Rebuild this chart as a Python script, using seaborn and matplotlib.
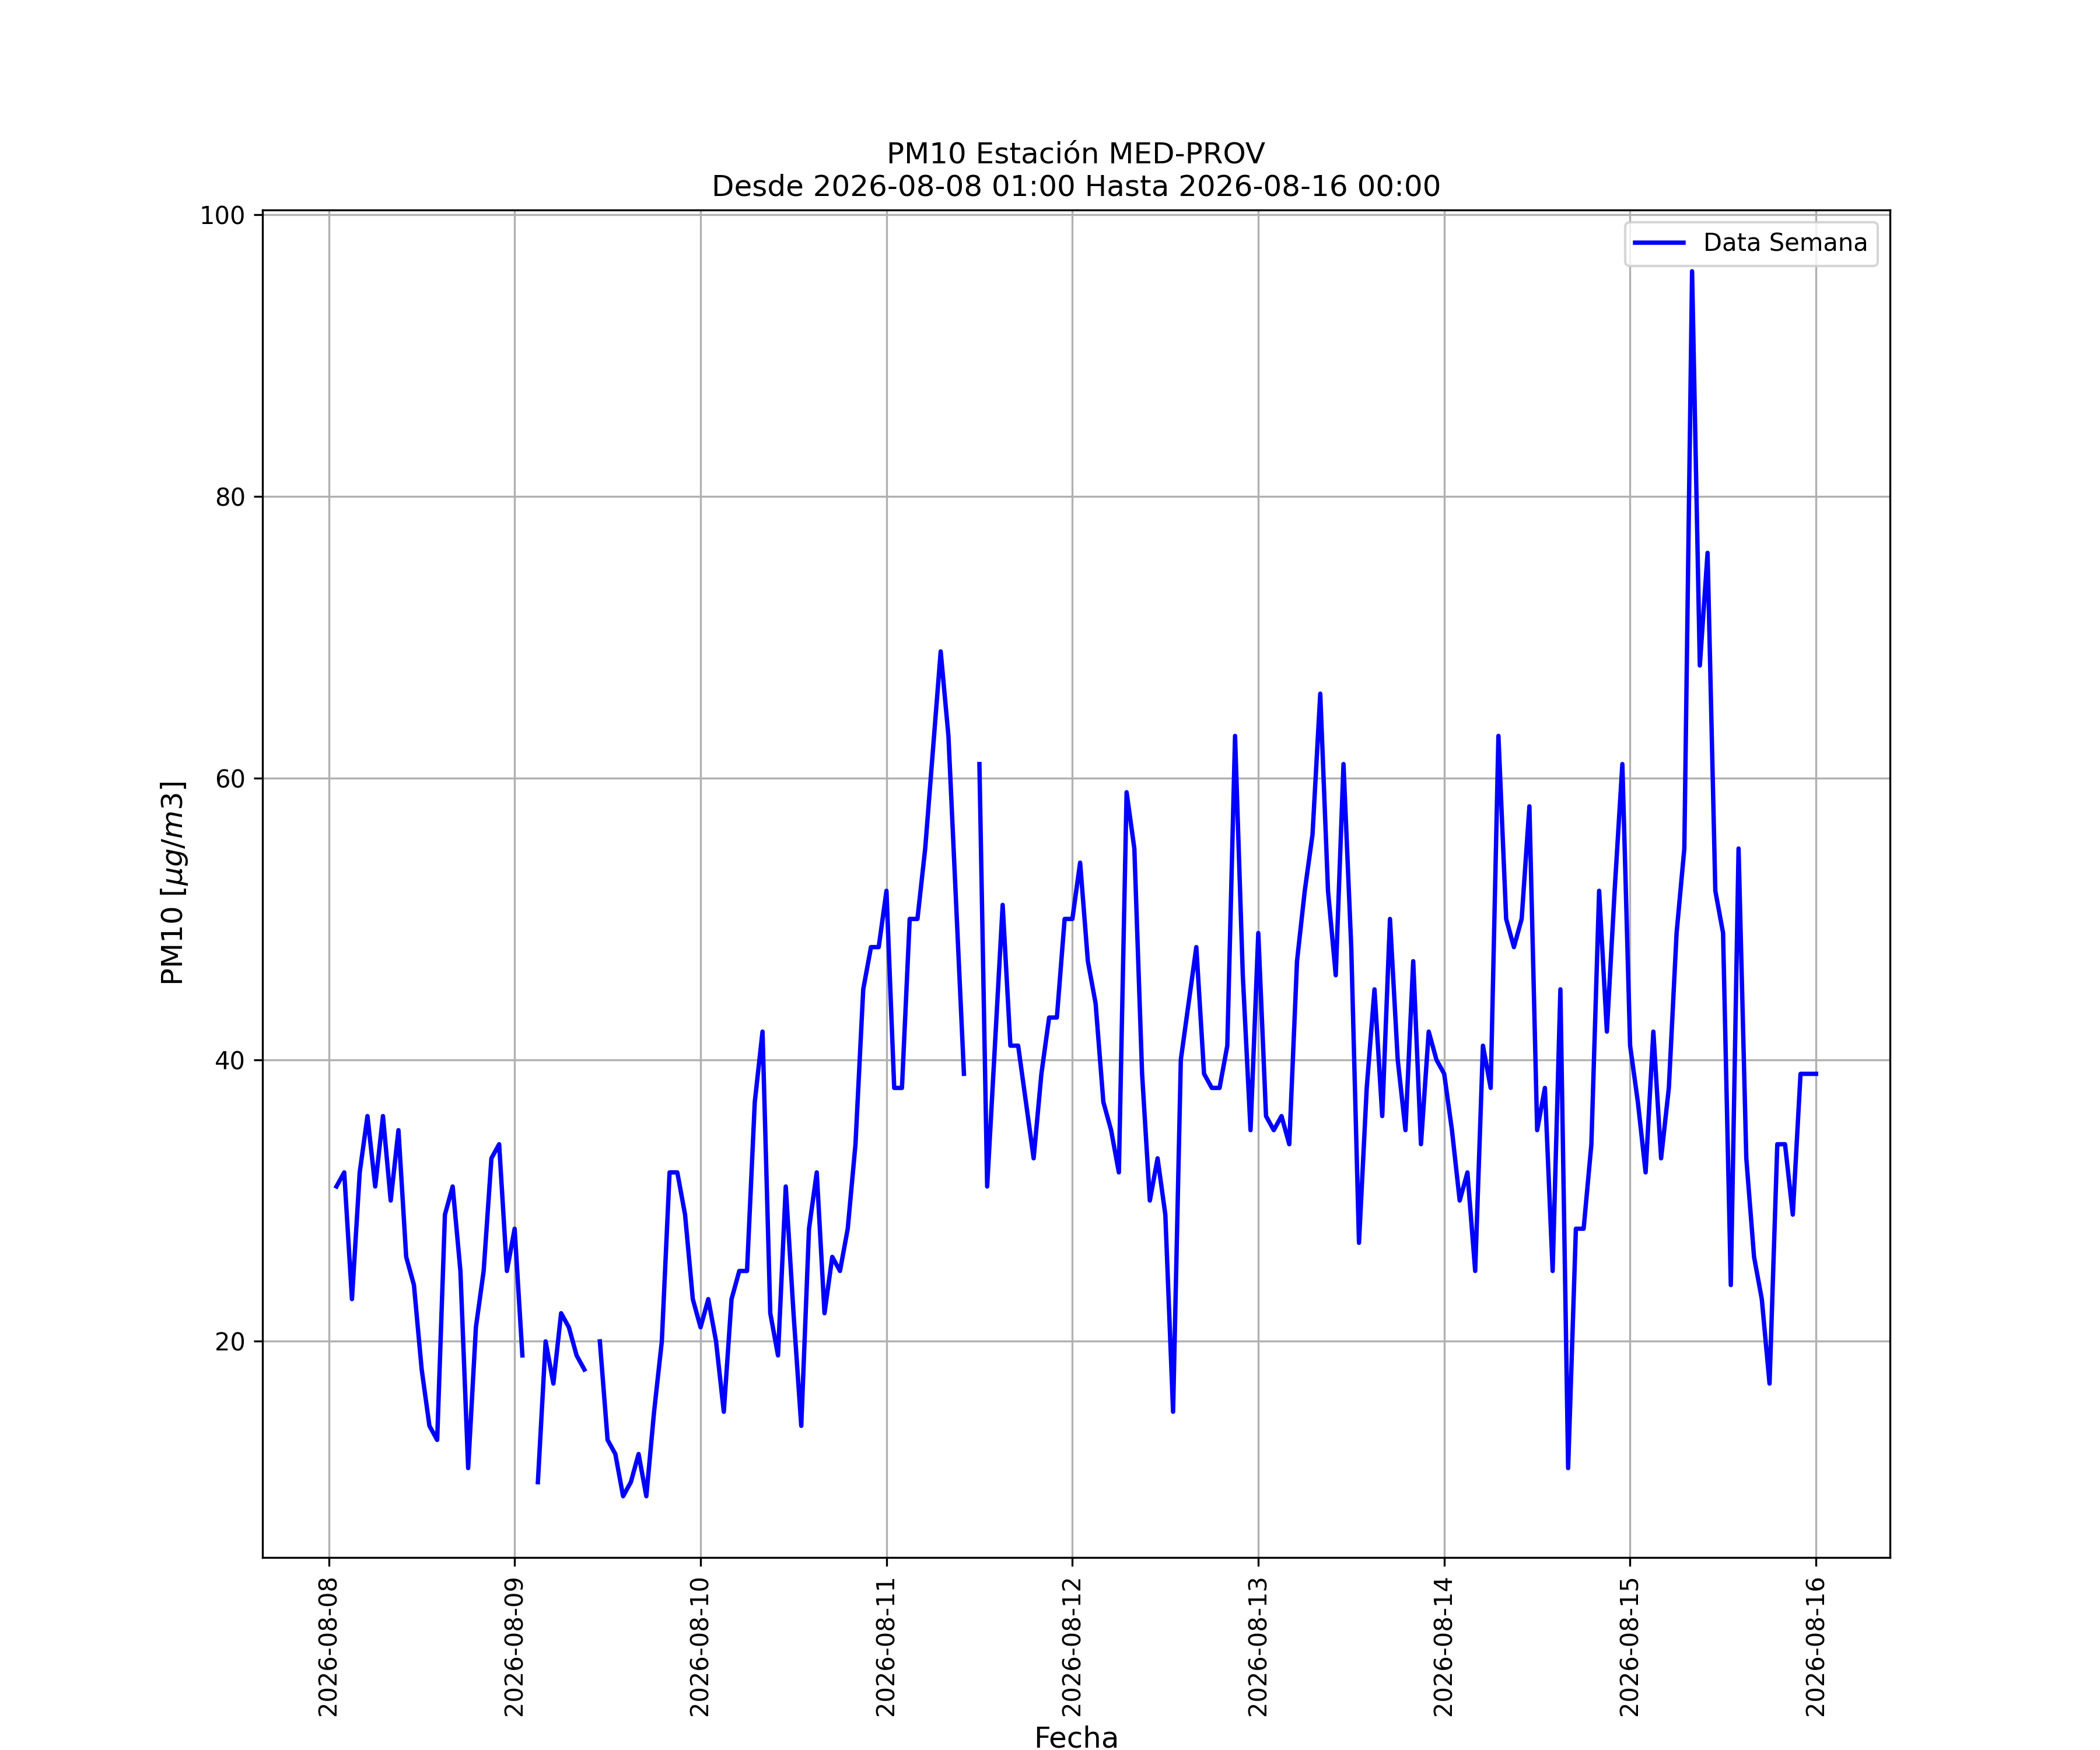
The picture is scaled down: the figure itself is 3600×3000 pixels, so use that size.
import numpy as np
import pandas as pd
import matplotlib
matplotlib.use('Agg')
import matplotlib.pyplot as plt
import matplotlib.dates as mdates
import seaborn as sns

estacion = 'MED-PROV'
inicio = '2026-08-08 01:00'
fin = '2026-08-16 00:00'

nan = np.nan
# Hourly PM10 values, one list per day (01:00 .. 00:00 next day)
dia_08 = [31, 32, 23, 32, 36, 31, 36, 30, 35, 26, 24, 18,
          14, 13, 29, 31, 25, 11, 21, 25, 33, 34, 25, 28]
dia_09 = [19, nan, 10, 20, 17, 22, 21, 19, 18, nan, 20, 13,
          12, 9, 10, 12, 9, 15, 20, 32, 32, 29, 23, 21]
dia_10 = [23, 20, 15, 23, 25, 25, 37, 42, 22, 19, 31, 22,
          14, 28, 32, 22, 26, 25, 28, 34, 45, 48, 48, 52]
dia_11 = [38, 38, 50, 50, 55, 62, 69, 63, 51, 39, nan, 61,
          31, 41, 51, 41, 41, 37, 33, 39, 43, 43, 50, 50]
dia_12 = [54, 47, 44, 37, 35, 32, 59, 55, 39, 30, 33, 29,
          15, 40, 44, 48, 39, 38, 38, 41, 63, 46, 35, 49]
dia_13 = [36, 35, 36, 34, 47, 52, 56, 66, 52, 46, 61, 48,
          27, 38, 45, 36, 50, 40, 35, 47, 34, 42, 40, 39]
dia_14 = [35, 30, 32, 25, 41, 38, 63, 50, 48, 50, 58, 35,
          38, 25, 45, 11, 28, 28, 34, 52, 42, 52, 61, 41]
dia_15 = [37, 32, 42, 33, 38, 49, 55, 96, 68, 76, 52, 49,
          24, 55, 33, 26, 23, 17, 34, 34, 29, 39, 39, 39]

pm10 = dia_08 + dia_09 + dia_10 + dia_11 + dia_12 + dia_13 + dia_14 + dia_15
fechas = pd.date_range(inicio, fin, freq='h')

df = pd.DataFrame({'Fecha': fechas, 'PM10': pm10})
# split the series at missing hours so the line shows gaps
df['tramo'] = df['PM10'].isna().cumsum()
df = df.dropna()

fig, ax = plt.subplots(figsize=(12, 10))
for i, (tramo, sub) in enumerate(df.groupby('tramo')):
    sns.lineplot(data=sub, x='Fecha', y='PM10', ax=ax, color='blue',
                 linewidth=1.8, label='Data Semana' if i == 0 else None)

ax.xaxis.set_major_locator(mdates.DayLocator())
ax.xaxis.set_major_formatter(mdates.DateFormatter('%Y-%m-%d'))
plt.setp(ax.get_xticklabels(), rotation=90)
ax.grid(True)
ax.set_xlabel('Fecha', fontsize=12)
ax.set_ylabel(r'PM10 [$\mu g/m3$]', fontsize=12)
ax.set_title('PM10 Estación ' + estacion + '\nDesde ' + inicio + ' Hasta ' + fin,
             fontsize=12)
ax.legend(loc='upper right')

plt.savefig('out.png', dpi=300)
